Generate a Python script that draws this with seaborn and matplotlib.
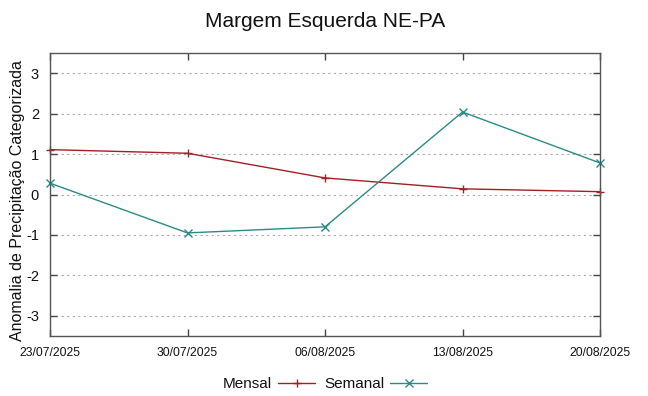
import pandas as pd
import numpy as np
import matplotlib
matplotlib.use('Agg')
import matplotlib.pyplot as plt
import seaborn as sns

datas = ['23/07/2025', '30/07/2025', '06/08/2025', '13/08/2025', '20/08/2025']
mensal = [1.11, 1.02, 0.41, 0.14, 0.07]
semanal = [0.28, -0.95, -0.80, 2.04, 0.78]

df = pd.DataFrame({
    'x': list(range(len(datas))) * 2,
    'valor': mensal + semanal,
    'serie': ['Mensal'] * len(datas) + ['Semanal'] * len(datas),
})

sns.set_style('white')
plt.rcParams['font.family'] = ['Liberation Sans', 'DejaVu Sans']
plt.rcParams['axes.unicode_minus'] = False
plt.rcParams['text.color'] = '#111111'
plt.rcParams['axes.labelcolor'] = '#111111'
plt.rcParams['xtick.color'] = '#111111'
plt.rcParams['ytick.color'] = '#111111'

fig = plt.figure(figsize=(6.48, 3.96), dpi=100)
ax = fig.add_axes([50 / 648, 1 - 336 / 396, 550 / 648, 283 / 396])

sns.lineplot(data=df, x='x', y='valor', hue='serie', style='serie',
             palette={'Mensal': '#a31f26', 'Semanal': '#2b8a8a'},
             markers={'Mensal': '+', 'Semanal': 'x'}, dashes=False,
             linewidth=1.0, markersize=5.5, markeredgewidth=1.0, ax=ax)
for ln in ax.get_lines():
    ln.set_markeredgecolor(ln.get_color())
    ln.set_clip_on(False)

ax.set_xlim(0, len(datas) - 1)
ax.set_ylim(-3.5, 3.5)
ax.set_xticks(range(len(datas)))
ax.set_xticklabels(datas, fontsize=8.7)
ax.set_yticks([-3, -2, -1, 0, 1, 2, 3])
ax.tick_params(axis='y', labelsize=10.5)
ax.tick_params(direction='in', length=5, width=1, color='#444444',
               top=True, right=True, bottom=True, left=True, pad=8)
ax.yaxis.grid(True, linestyle=(0, (2, 3)), color='#aaaaaa', linewidth=0.8)
for s in ax.spines.values():
    s.set_color('#555555')
    s.set_linewidth(1.0)

ax.set_xlabel('')
ax.set_ylabel('Anomalia de Precipitação Categorizada', fontsize=11.5)
ax.yaxis.set_label_coords(-32 / 550, 0.48)
ax.yaxis.label.set_va('center')
ax.set_title('Margem Esquerda NE-PA', fontsize=15, pad=19)

handles, labels = ax.get_legend_handles_labels()
for h in handles:
    h.set_markeredgecolor(h.get_color())
ax.legend(handles, labels, loc='center', bbox_to_anchor=(0.5, -0.17),
          ncol=2, frameon=False, markerfirst=False, fontsize=11,
          handlelength=2.4, columnspacing=0.6, handletextpad=0.4)

fig.savefig('out.png', dpi=100)
